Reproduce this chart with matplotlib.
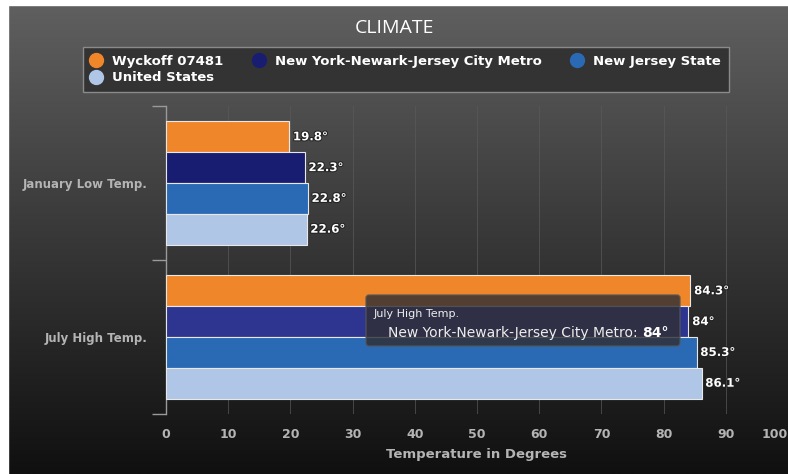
#!/usr/bin/env python3
"""
Climate comparison bar chart (January low / July high temperatures).
"""

import numpy as np
import matplotlib.pyplot as plt
import matplotlib.patheffects as pe
from matplotlib.lines import Line2D
from matplotlib.patches import FancyBboxPatch, Rectangle

# data
categories = ['January Low Temp.', 'July High Temp.']
series_names = ['Wyckoff 07481', 'New York-Newark-Jersey City Metro',
                'New Jersey State', 'United States']
wyckoff = [19.8, 84.3]
ny_metro = [22.3, 84]
nj_state = [22.8, 85.3]
us = [22.6, 86.1]
x_ticks = [0, 10, 20, 30, 40, 50, 60, 70, 80, 90, 100]

series_values = [wyckoff, ny_metro, nj_state, us]
colors = ['#f0862a', '#191d72', '#2a6ab4', '#afc6e6']

W, H = 788, 474
fig = plt.figure(figsize=(W / 100, H / 100), dpi=100)

# background gradient
bg = fig.add_axes([0, 0, 1, 1], zorder=-10)
grad = np.linspace(0, 1, 256).reshape(-1, 1)
top = np.array([0x60, 0x60, 0x60]) / 255
bot = np.array([0x10, 0x10, 0x10]) / 255
img = top + (bot - top) * grad[:, :, None]
bg.imshow(img, aspect='auto', extent=[0, 1, 0, 1])
bg.set_axis_off()
# white margins at left and top
fig.patches.append(Rectangle((0, 0), 8 / W, 1, transform=fig.transFigure,
                             color='white', zorder=-5))
fig.patches.append(Rectangle((0, 1 - 5 / H), 1, 5 / H, transform=fig.transFigure,
                             color='white', zorder=-5))

ax = fig.add_axes([166 / W, (H - 414) / H, (W - 166) / W, 308 / H])
ax.set_facecolor('none')

n = len(series_values)
bar_h = 0.2
y = np.arange(len(categories))
for i, (vals, c) in enumerate(zip(series_values, colors)):
    pos = y + (i - (n - 1) / 2) * bar_h
    # the hovered NY bar (July) is drawn highlighted
    face = [c, '#2e3590'] if i == 1 else c
    ax.barh(pos, vals, height=bar_h, color=face, edgecolor='#e8e8e8',
            linewidth=0.8, zorder=3)
    for p, v in zip(pos, vals):
        txt = ('%g' % v) + '°'
        ax.text(v + 0.6, p, txt, va='center', ha='left', color='white',
                fontsize=8.5, fontweight='bold', zorder=5,
                path_effects=[pe.withStroke(linewidth=1.5, foreground='#222222')])

ax.set_xlim(0, 100)
ax.set_ylim(1.5, -0.5)
ax.set_xticks(x_ticks)
xt = ax.set_xticklabels([str(t) for t in x_ticks])
xt[-1].set_ha('right')
ax.tick_params(axis='x', length=0, pad=10, colors='#b4b4b4', labelsize=9)
for lbl in ax.get_xticklabels():
    lbl.set_fontweight('bold')
ax.set_xlabel('Temperature in Degrees', color='#b4b4b4', fontsize=9.5,
              fontweight='bold', labelpad=5)

# category boundaries as bracket ticks, labels at centers
ax.set_yticks([-0.5, 0.5, 1.5])
ax.set_yticklabels([])
ax.tick_params(axis='y', which='major', length=10, width=1, color='#9a9a9a')
ax.set_yticks(y, minor=True)
ax.set_yticklabels(categories, minor=True)
ax.tick_params(axis='y', which='minor', length=0, pad=13, labelsize=8.5,
               labelcolor='#b4b4b4')
for lbl in ax.get_yticklabels(minor=True):
    lbl.set_fontweight('bold')

for s in ['top', 'right', 'bottom']:
    ax.spines[s].set_visible(False)
ax.spines['left'].set_color('#9a9a9a')
ax.spines['left'].set_linewidth(1)

ax.grid(axis='x', color='#5a5a5a', linewidth=0.7, alpha=0.7, zorder=0)
ax.set_axisbelow(True)

# title
fig.text(0.5, 1 - 28 / H, 'CLIMATE', ha='center', va='center', color='white',
         fontsize=14, family='Open Sans')

# legend (row-major order: col1 holds Wyckoff + US)
handles = [Line2D([], [], marker='o', linestyle='none', markersize=10,
                  markerfacecolor=c, markeredgecolor=c) for c in colors]
order = [0, 3, 1, 2]
leg = fig.legend([handles[k] for k in order], [series_names[k] for k in order],
                 ncol=3, loc='upper left', bbox_to_anchor=(83 / W, 1 - 47 / H),
                 borderaxespad=0, frameon=True, fancybox=False,
                 facecolor='#333333', edgecolor='#8a8a8a', framealpha=1,
                 handlelength=0.8, handletextpad=0.8, columnspacing=2.3,
                 labelspacing=0.25, borderpad=0.6,
                 prop={'weight': 'bold', 'size': 9.5})
for t in leg.get_texts():
    t.set_color('white')

# hover tooltip on an overlay
ov = fig.add_axes([0, 0, 1, 1], zorder=30)
ov.set_xlim(0, W)
ov.set_ylim(H, 0)
ov.set_axis_off()
ov.add_patch(FancyBboxPatch((366, 295), 314, 51,
                            boxstyle='round,pad=0,rounding_size=3',
                            facecolor='#303035', edgecolor='#555555',
                            alpha=0.82))
ov.text(374, 314, 'July High Temp.', color='#eeeeee', fontsize=8,
        va='center', ha='left')
t1 = ov.text(388, 333, 'New York-Newark-Jersey City Metro: ',
             color='#eeeeee', fontsize=10, va='center', ha='left')
ov.annotate('84°', xy=(1, 0.5), xycoords=t1, va='center', ha='left',
            color='white', fontsize=10, fontweight='bold',
            annotation_clip=False)

plt.savefig('out.png', dpi=100)
